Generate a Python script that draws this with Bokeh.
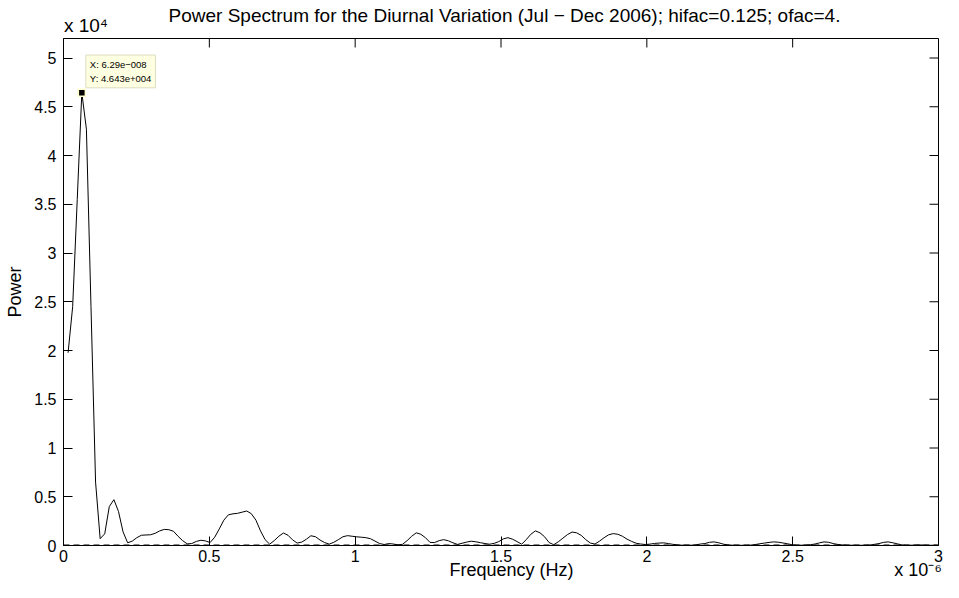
import math
from bokeh.plotting import figure
from bokeh.models import FixedTicker, Label, Range1d, LinearAxis
from bokeh.embed import file_html
from bokeh.resources import INLINE

# frequency grid step (Hz) and spectrum values
df = 1.5708e-8
power = [
    19770, 24500, 35500, 46430, 42700, 24500, 6500, 700, 1200, 4000,
    4700, 3500, 1400, 280, 450, 800, 1050, 1080, 1100, 1250,
    1500, 1650, 1620, 1460, 950, 500, 170, 200, 420, 540,
    470, 300, 850, 1700, 2600, 3150, 3250, 3300, 3420, 3540,
    3260, 2600, 1500, 600, 140, 500, 950, 1280, 1050, 580,
    250, 350, 640, 1000, 900, 560, 300, 140, 330, 600,
    900, 1010, 950, 890, 850, 800, 700, 450, 200, 100,
    200, 150, 70, 120, 500, 950, 1300, 1150, 800, 320,
    300, 500, 600, 480, 280, 110, 230, 350, 440, 380,
    290, 200, 130, 220, 400, 680, 800, 650, 400, 130,
    600, 1150, 1500, 1300, 900, 300, 80, 380, 750, 1120,
    1380, 1300, 1040, 600, 250, 150, 450, 800, 1100, 1220,
    1150, 950, 650, 420, 230, 150, 100, 140, 210, 250,
    270, 200, 120, 60, 30, 30, 30, 60, 150, 200,
    330, 370, 280, 140, 60, 30, 20, 20, 20, 40,
    100, 180, 250, 320, 370, 340, 260, 180, 80, 30,
    30, 40, 80, 150, 270, 370, 330, 200, 110, 60,
    30, 30, 20, 20, 30, 50, 120, 200, 320, 370,
    280, 170, 60, 30, 30, 40, 60, 40, 20, 30,
    20,
]
freq = [df * (k + 1) for k in range(len(power))]

peak_f = 6.29e-8
peak_p = 46430
tip_lines = ["X: 6.29e\u2212008", "Y: 4.643e+004"]

x_min, x_max = 0.0, 3e-6
y_min, y_max = 0, 52000
x_ticks = [0.0, 0.5e-6, 1.0e-6, 1.5e-6, 2.0e-6, 2.5e-6, 3.0e-6]
x_tick_labels = ["0", "0.5", "1", "1.5", "2", "2.5", "3"]
y_ticks = [0, 5000, 10000, 15000, 20000, 25000, 30000, 35000, 40000, 45000, 50000]
y_tick_labels = ["0", "0.5", "1", "1.5", "2", "2.5", "3", "3.5", "4", "4.5", "5"]

title = "Power Spectrum for the Diurnal Variation (Jul \u2212 Dec 2006); hifac=0.125; ofac=4."
x_label = "Frequency (Hz)"
y_label = "Power"
y_exponent = "x 10\u2074"
x_exponent = "x 10\u207b\u2076"
# horizontal anchor (data units) of the texts set in the margins
title_at = 1.512e-6
x_label_at = 1.536e-6
y_exponent_at = 0.077e-6
x_exponent_at = 2.93e-6
FONT = "Liberation Sans"

p = figure(width=943, height=582, output_backend="svg", toolbar_location=None,
           x_range=Range1d(x_min, x_max), y_range=Range1d(y_min, y_max),
           min_border_left=63, min_border_right=5, min_border_top=38, min_border_bottom=30)

p.background_fill_color = "white"
p.border_fill_color = "white"
p.outline_line_color = "black"
p.outline_line_width = 1
p.grid.visible = False

def style_axis(ax, ticks, labels, standoff):
    ax.ticker = FixedTicker(ticks=ticks)
    ax.major_label_overrides = {t: l for t, l in zip(ticks, labels)}
    ax.major_tick_in = 9
    ax.major_tick_out = 0
    ax.minor_tick_in = 0
    ax.minor_tick_out = 0
    ax.axis_line_color = "black"
    ax.major_tick_line_color = "black"
    ax.major_label_text_font = FONT
    ax.major_label_text_color = "black"
    ax.major_label_text_font_size = "16px"
    ax.major_label_standoff = standoff
    ax.axis_label_text_font = FONT
    ax.axis_label_text_font_size = "18px"
    ax.axis_label_text_font_style = "normal"
    ax.axis_label_text_color = "black"

style_axis(p.xaxis[0], x_ticks, x_tick_labels, 4)
style_axis(p.yaxis[0], y_ticks, y_tick_labels, 7)
p.yaxis[0].axis_label = y_label
p.yaxis[0].axis_label_standoff = 6

def text_axis(ticks, labels, size, standoff):
    ax = LinearAxis(ticker=FixedTicker(ticks=ticks),
                    major_label_overrides={t: l for t, l in zip(ticks, labels)})
    ax.axis_line_color = None
    ax.major_tick_line_color = None
    ax.minor_tick_line_color = None
    ax.major_tick_in = 0
    ax.major_tick_out = 0
    ax.minor_tick_in = 0
    ax.minor_tick_out = 0
    ax.major_label_text_font = FONT
    ax.major_label_text_font_size = size
    ax.major_label_text_color = "black"
    ax.major_label_standoff = standoff
    return ax

# margin texts carried by label-only axes (outside the clipped frame)
p.add_layout(text_axis([y_exponent_at], [y_exponent], "19px", 3), "above")
p.add_layout(text_axis([title_at], [title], "19px", -14), "above")
p.add_layout(text_axis([x_label_at, x_exponent_at], [x_label, x_exponent], "18px", -5), "below")

# mirrored inward ticks on top and right edges
p.ray(x=x_ticks, y=[y_max] * len(x_ticks), length=9, length_units="screen",
      angle=-math.pi / 2, line_color="black", line_width=1)
p.ray(x=[x_max] * len(y_ticks), y=y_ticks, length=9, length_units="screen",
      angle=math.pi, line_color="black", line_width=1)

# zero reference line (dashed) and spectrum
p.line([x_min, x_max], [0, 0], line_color="black", line_width=2, line_dash="6 4")
p.line(freq, power, line_color="black", line_width=1)

# data tip
p.scatter([peak_f], [peak_p], marker="square", size=7, fill_color="black",
          line_color="#FFFFCC", line_width=1.5)
p.add_layout(Label(x=peak_f, y=peak_p, x_offset=4, y_offset=5, text="\n".join(tip_lines),
                   text_font=FONT, text_font_size="9.5px", text_color="black",
                   text_baseline="bottom", text_align="left",
                   background_fill_color="#FFFFE1", border_line_color="#DCDCC0",
                   padding=4, text_line_height=1.25))

open("out.html", "w").write(file_html(p, INLINE))
